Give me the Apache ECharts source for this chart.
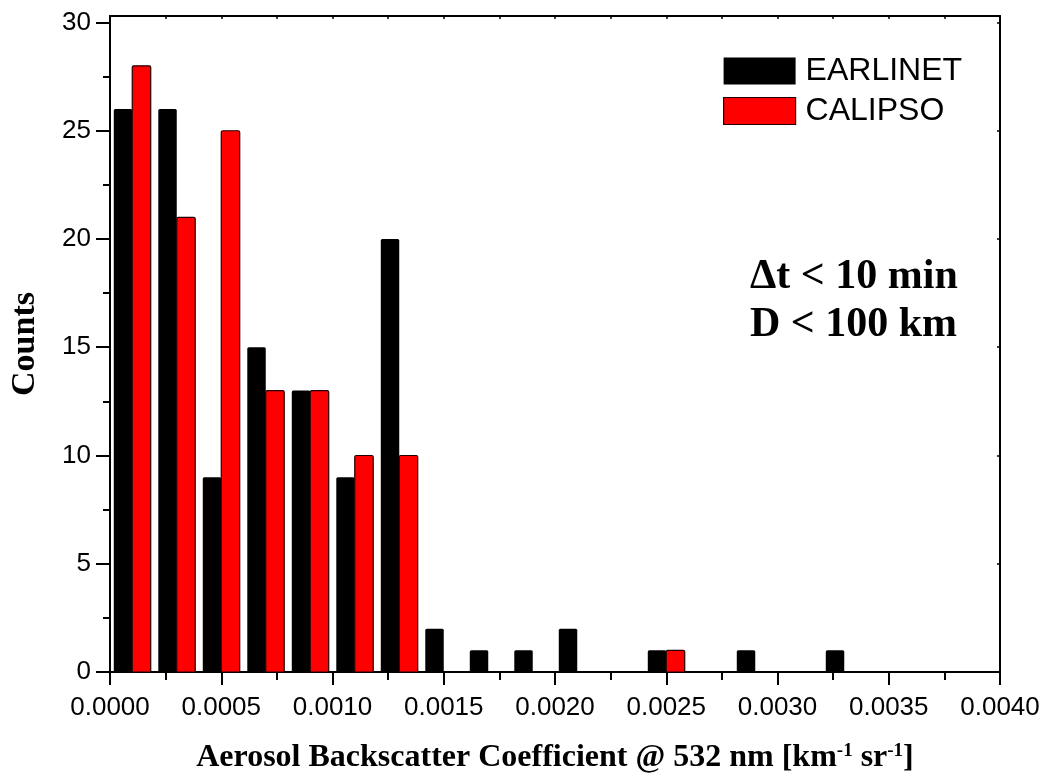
<!DOCTYPE html>
<html>
<head>
<meta charset="utf-8">
<script src="https://cdn.jsdelivr.net/npm/echarts@6/dist/echarts.min.js"></script>
<style>html,body{margin:0;padding:0;background:#fff}#c{width:1043px;height:777px}</style>
</head>
<body>
<div id="c"></div>
<script>
// Bin centres (km^-1 sr^-1)
const binCenters = [0.0001, 0.0003, 0.0005, 0.0007, 0.0009, 0.0011, 0.0013, 0.0015, 0.0017, 0.0019,
                    0.0021, 0.0023, 0.0025, 0.0027, 0.0029, 0.0031, 0.0033, 0.0035, 0.0037, 0.0039];
const earlinet = [26, 26, 9, 15, 13, 9, 20, 2, 1, 1, 2, 0, 1, 0, 1, 0, 1, 0, 0, 0];
const calipso  = [28, 21, 25, 13, 13, 10, 10, 0, 0, 0, 0, 0, 1, 0, 0, 0, 0, 0, 0, 0];
const yTicks = [0, 5, 10, 15, 20, 25, 30];
const xTicks = [0, 0.0005, 0.001, 0.0015, 0.002, 0.0025, 0.003, 0.0035, 0.004];

const chart = echarts.init(document.getElementById('c'), null, {renderer: 'canvas'});
const BAR_W = 0.000083;

function makeData(vals) {
  const out = [];
  binCenters.forEach((c, i) => { if (vals[i] > 0) out.push([c, vals[i]]); });
  return out;
}
function renderer(side) {
  return function (params, api) {
    const c = api.value(0), v = api.value(1);
    const x0 = side < 0 ? c - BAR_W : c;
    const x1 = side < 0 ? c : c + BAR_W;
    const p0 = api.coord([x0, v]);
    const p1 = api.coord([x1, 0]);
    return {
      type: 'rect',
      shape: {x: p0[0], y: p0[1], width: p1[0] - p0[0], height: p1[1] - p0[1], r: [1.5, 1.5, 0, 0]},
      style: api.style()
    };
  };
}

const serifBold = 'Liberation Serif';
const sans = 'Liberation Sans';

chart.setOption({
  animation: false,
  backgroundColor: '#fff',
  grid: {left: 110, right: 43, top: 16, bottom: 105, containLabel: false, outerBoundsMode: 'none'},
  legend: {
    orient: 'vertical', left: 723, top: 55, padding: 0, itemWidth: 72, itemHeight: 27, itemGap: 8,
    icon: 'rect',
    textStyle: {fontFamily: sans, fontSize: 32, color: '#000', padding: [0, 0, 0, 5]},
    data: [
      {name: 'EARLINET', itemStyle: {color: '#000', borderWidth: 0}},
      {name: 'CALIPSO', itemStyle: {color: '#ff0000', borderColor: '#200', borderWidth: 1.2}}
    ]
  },
  xAxis: [{
    type: 'value', min: 0, max: 0.004, interval: 0.0005,
    position: 'bottom',
    axisLine: {show: true, onZero: false, lineStyle: {color: '#000', width: 2}},
    axisTick: {show: true, inside: false, length: 13, lineStyle: {color: '#000', width: 2}},
    minorTick: {show: true, splitNumber: 2, length: 8, lineStyle: {color: '#000', width: 2}},
    splitLine: {show: false},
    axisLabel: {
      customValues: xTicks,
      fontFamily: sans, fontSize: 26, color: '#000', margin: 23,
      formatter: v => v.toFixed(4)
    },
    name: '{b|Aerosol Backscatter Coefficient @ 532 nm [km}{s|-1}{b| sr}{s|-1}{b|]}',
    nameLocation: 'middle', nameGap: 70,
    nameTextStyle: {
      rich: {
        b: {fontFamily: serifBold, fontWeight: 'bold', fontSize: 32, color: '#000', verticalAlign: 'bottom', lineHeight: 32},
        s: {fontFamily: serifBold, fontWeight: 'bold', fontSize: 19, color: '#000', verticalAlign: 'top', lineHeight: 32, padding: [0, 0, 13, 0]}
      }
    }
  }, {
    type: 'value', min: 0, max: 0.004, interval: 0.0005,
    position: 'top',
    axisLine: {show: true, onZero: false, lineStyle: {color: '#000', width: 2}},
    axisTick: {show: true, inside: true, length: 3, lineStyle: {color: '#000', width: 1.5}},
    minorTick: {show: true, splitNumber: 2, length: 3, lineStyle: {color: '#000', width: 1.5}},
    axisLabel: {show: false}, splitLine: {show: false}
  }],
  yAxis: [{
    type: 'value', min: 0, max: 30.3, interval: 5,
    position: 'left',
    axisLine: {show: true, onZero: false, lineStyle: {color: '#000', width: 2}},
    axisTick: {show: true, inside: false, length: 14, customValues: yTicks, lineStyle: {color: '#000', width: 2}},
    minorTick: {show: true, splitNumber: 2, length: 7, lineStyle: {color: '#000', width: 2}},
    splitLine: {show: false},
    axisLabel: {customValues: yTicks, fontFamily: sans, fontSize: 26, color: '#000', margin: 19},
    name: 'Counts', nameLocation: 'middle', nameGap: 68, nameRotate: 90,
    nameTextStyle: {fontFamily: serifBold, fontWeight: 'bold', fontSize: 34, color: '#000'}
  }, {
    type: 'value', min: 0, max: 30.3, interval: 5,
    position: 'right',
    axisLine: {show: true, onZero: false, lineStyle: {color: '#000', width: 2}},
    axisTick: {show: true, inside: true, length: 3, customValues: yTicks, lineStyle: {color: '#000', width: 1.5}},
    minorTick: {show: false},
    axisLabel: {show: false}, splitLine: {show: false}
  }],
  graphic: [
    {type: 'text', left: 750, top: 256, style: {text: '\u0394t < 10 min', font: 'bold 42px "Liberation Serif"', fill: '#000'}},
    {type: 'text', left: 750, top: 304, style: {text: 'D < 100 km', font: 'bold 42px "Liberation Serif"', fill: '#000'}}
  ],
  series: [
    {
      name: 'EARLINET', type: 'custom', renderItem: renderer(-1),
      itemStyle: {color: '#000'},
      encode: {x: 0, y: 1},
      data: makeData(earlinet), z: 3
    },
    {
      name: 'CALIPSO', type: 'custom', renderItem: renderer(1),
      itemStyle: {color: '#ff0000', borderColor: '#200', borderWidth: 1.2},
      encode: {x: 0, y: 1},
      data: makeData(calipso), z: 3
    }
  ]
});
</script>
</body>
</html>
